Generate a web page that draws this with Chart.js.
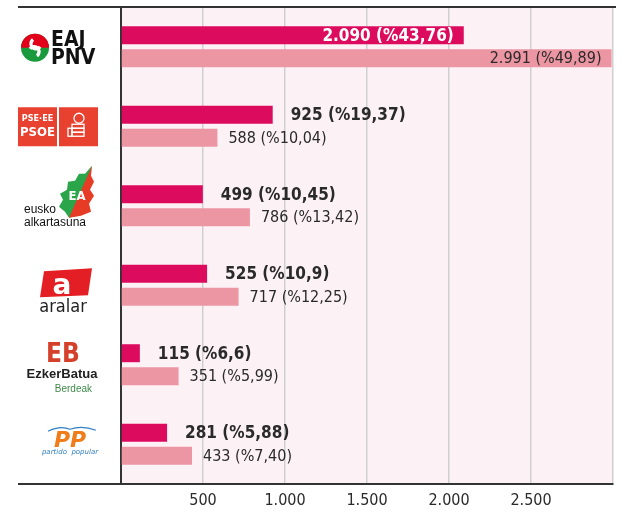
<!DOCTYPE html>
<html>
<head>
<meta charset="utf-8">
<script src="https://cdn.jsdelivr.net/npm/chart.js@4/dist/chart.umd.min.js"></script>
<style>
  html, body { margin: 0; padding: 0; background: #fff; }
  #wrap { width: 626px; height: 515px; }
</style>
</head>
<body>
<div id="wrap"><canvas id="votesChart" width="626" height="515"></canvas></div>
<script>
// ===============================
//     DATOS
// ===============================
const parties = ["EAJ-PNV", "PSE-EE PSOE", "Eusko Alkartasuna", "Aralar", "Ezker Batua Berdeak", "PP"];
const votesDark = [2090, 925, 499, 525, 115, 281];
const pctDark = ["43,76", "19,37", "10,45", "10,9", "6,6", "5,88"];
const votesLight = [2991, 588, 786, 717, 351, 433];
const pctLight = ["49,89", "10,04", "13,42", "12,25", "5,99", "7,40"];
const xTicks = [500, 1000, 1500, 2000, 2500];

const DARK = "#dc0b5e";
const LIGHT = "#ec95a3";
const TEXT = "#2a2a2a";
const COND = "'DejaVu Sans Condensed'";

// 1000 -> "1.000"
function fmt(n) {
  return String(n).replace(/\B(?=(\d{3})+(?!\d))/g, ".");
}

// ============================
//   Fondo rosa + líneas del marco
// ============================
const framePlugin = {
  id: "frame",
  beforeDraw(chart) {
    const { ctx, chartArea: a } = chart;
    ctx.save();
    ctx.fillStyle = "#fcf2f5";
    ctx.fillRect(a.left, a.top, a.right - a.left, a.bottom - a.top);
    ctx.restore();
  },
  afterDraw(chart) {
    const { ctx, chartArea: a } = chart;
    ctx.save();
    ctx.strokeStyle = "#333";
    ctx.lineWidth = 2;
    ctx.beginPath();
    ctx.moveTo(18, a.top);
    ctx.lineTo(616, a.top);
    ctx.moveTo(18, a.bottom);
    ctx.lineTo(a.right, a.bottom);
    ctx.stroke();
    ctx.restore();
  }
};

// ============================
//   Etiquetas de valores
// ============================
const valueLabels = {
  id: "valueLabels",
  afterDatasetsDraw(chart) {
    const { ctx, chartArea: a } = chart;
    ctx.save();
    ctx.textBaseline = "middle";
    chart.data.datasets.forEach((ds, di) => {
      const meta = chart.getDatasetMeta(di);
      const isDark = di === 0;
      const pcts = isDark ? pctDark : pctLight;
      ctx.font = isDark ? "bold 17px " + COND : "16px " + COND;
      meta.data.forEach((bar, i) => {
        const txt = fmt(ds.data[i]) + " (%" + pcts[i] + ")";
        const w = ctx.measureText(txt).width;
        const gap = isDark ? 18 : 11;
        if (bar.x + gap + w > a.right) {
          ctx.textAlign = "right";
          ctx.fillStyle = isDark ? "#fff" : TEXT;
          ctx.fillText(txt, bar.x - 10, bar.y + 1);
        } else {
          ctx.textAlign = "left";
          ctx.fillStyle = TEXT;
          ctx.fillText(txt, bar.x + gap, bar.y + 1);
        }
      });
    });
    ctx.restore();
  }
};

// ============================
//   Logos de los partidos (dibujo simplificado)
// ============================
function drawEAJ(ctx, cy) {
  const cx = 35, y = cy + 1, r = 14;
  ctx.fillStyle = "#1a9a3c";
  ctx.beginPath(); ctx.arc(cx, y, r, 0, Math.PI * 2); ctx.fill();
  ctx.fillStyle = "#e2001a";
  ctx.beginPath(); ctx.arc(cx, y, r, Math.PI, Math.PI * 2); ctx.fill();
  ctx.strokeStyle = "#fff"; ctx.lineWidth = 3.5;
  ctx.beginPath();
  ctx.arc(cx + 1, y - 4, 5, Math.PI * 0.2, Math.PI * 1.3, false);
  ctx.stroke();
  ctx.beginPath();
  ctx.arc(cx - 1, y + 4, 5, Math.PI * 1.2, Math.PI * 0.3, false);
  ctx.stroke();
  ctx.fillStyle = "#111";
  ctx.font = "bold 21px " + COND;
  ctx.textAlign = "left"; ctx.textBaseline = "alphabetic";
  ctx.fillText("EAJ", 51, cy - 1);
  ctx.fillText("PNV", 51, cy + 17);
}

function drawPSOE(ctx, cy) {
  ctx.fillStyle = "#e8412f";
  ctx.fillRect(18, cy - 19, 39, 39);
  ctx.fillRect(59, cy - 19, 39, 39);
  ctx.fillStyle = "#fff";
  ctx.textAlign = "center"; ctx.textBaseline = "alphabetic";
  ctx.font = "bold 9px " + COND;
  ctx.fillText("PSE·EE", 37.5, cy - 5);
  ctx.font = "bold 13px " + COND;
  ctx.fillText("PSOE", 37.5, cy + 10);
  // puño y rosa
  ctx.strokeStyle = "#fff"; ctx.lineWidth = 1.3;
  ctx.beginPath(); ctx.arc(79, cy - 8, 5, 0, Math.PI * 2); ctx.stroke();
  ctx.strokeRect(72, cy - 2, 12, 4);
  ctx.strokeRect(72, cy + 2, 12, 4);
  ctx.strokeRect(72, cy + 6, 12, 4);
  ctx.strokeRect(68, cy + 2, 4, 8);
}

function drawEA(ctx, cy) {
  const t = cy - 40, dx = 3;
  ctx.fillStyle = "#2aa54a";
  ctx.beginPath();
  ctx.moveTo(89 + dx, t);
  ctx.lineTo(82 + dx, t + 8); ctx.lineTo(76 + dx, t + 8); ctx.lineTo(72 + dx, t + 15);
  ctx.lineTo(65 + dx, t + 16); ctx.lineTo(64 + dx, t + 24); ctx.lineTo(57 + dx, t + 28);
  ctx.lineTo(60 + dx, t + 34); ctx.lineTo(56 + dx, t + 41); ctx.lineTo(62 + dx, t + 46);
  ctx.lineTo(66 + dx, t + 52); ctx.lineTo(75 + dx, t + 50);
  ctx.closePath(); ctx.fill();
  ctx.fillStyle = "#e63b25";
  ctx.beginPath();
  ctx.moveTo(89 + dx, t);
  ctx.lineTo(88 + dx, t + 10); ctx.lineTo(91 + dx, t + 16); ctx.lineTo(87 + dx, t + 24);
  ctx.lineTo(91 + dx, t + 30); ctx.lineTo(86 + dx, t + 38); ctx.lineTo(88 + dx, t + 46);
  ctx.lineTo(78 + dx, t + 50); ctx.lineTo(66 + dx, t + 52);
  ctx.closePath(); ctx.fill();
  ctx.fillStyle = "#fff";
  ctx.font = "bold 13px " + COND;
  ctx.textAlign = "center"; ctx.textBaseline = "alphabetic";
  ctx.fillText("EA", 74 + dx, t + 34);
  ctx.fillStyle = "#111";
  ctx.font = "12px 'Liberation Sans'";
  ctx.textAlign = "left";
  ctx.fillText("eusko", 24, cy + 7);
  ctx.fillText("alkartasuna", 24, cy + 20);
}

function drawAralar(ctx, cy) {
  ctx.fillStyle = "#e31e24";
  ctx.beginPath();
  ctx.moveTo(44, cy - 14);
  ctx.lineTo(92, cy - 17);
  ctx.lineTo(88, cy + 10);
  ctx.lineTo(40, cy + 12);
  ctx.closePath(); ctx.fill();
  ctx.fillStyle = "#fff";
  ctx.font = "bold 28px 'DejaVu Sans'";
  ctx.textAlign = "center"; ctx.textBaseline = "alphabetic";
  ctx.fillText("a", 62, cy + 9);
  ctx.fillStyle = "#222";
  ctx.font = "18px " + COND;
  ctx.fillText("aralar", 63, cy + 27);
}

function drawEB(ctx, cy) {
  ctx.fillStyle = "#d5402b";
  ctx.font = "bold 26px " + COND;
  ctx.textAlign = "center"; ctx.textBaseline = "alphabetic";
  ctx.fillText("EB", 63, cy - 3);
  ctx.fillStyle = "#222";
  ctx.font = "bold 13px 'Liberation Sans'";
  ctx.fillText("EzkerBatua", 62, cy + 13);
  ctx.fillStyle = "#3f8a4a";
  ctx.font = "10px 'Liberation Sans'";
  ctx.textAlign = "right";
  ctx.fillText("Berdeak", 92, cy + 27);
}

function drawPP(ctx, cy) {
  ctx.strokeStyle = "#2f7fc1"; ctx.lineWidth = 1.2;
  ctx.beginPath();
  ctx.moveTo(48, cy - 13);
  ctx.quadraticCurveTo(60, cy - 19, 70, cy - 15);
  ctx.quadraticCurveTo(82, cy - 19, 96, cy - 14);
  ctx.stroke();
  ctx.fillStyle = "#f07d1a";
  ctx.font = "italic bold 22px 'DejaVu Sans'";
  ctx.textAlign = "center"; ctx.textBaseline = "alphabetic";
  ctx.fillText("PP", 70, cy + 3);
  ctx.fillStyle = "#2f7fc1";
  ctx.font = "italic 7px 'DejaVu Sans'";
  ctx.fillText("partido  popular", 70, cy + 10);
}

const logoDrawers = [drawEAJ, drawPSOE, drawEA, drawAralar, drawEB, drawPP];

const logosPlugin = {
  id: "logos",
  afterDraw(chart) {
    const { ctx } = chart;
    const y = chart.scales.y;
    parties.forEach((p, i) => {
      ctx.save();
      logoDrawers[i](ctx, y.getPixelForValue(i));
      ctx.restore();
    });
  }
};

// ============================
//   GRÁFICA
// ============================
const ctx = document.getElementById("votesChart").getContext("2d");

new Chart(ctx, {
  type: "bar",
  data: {
    labels: parties,
    datasets: [
      {
        label: "Botoak",
        data: votesDark,
        backgroundColor: DARK,
        categoryPercentage: 0.58,
        barPercentage: 0.78
      },
      {
        label: "Botoak (aurrekoak)",
        data: votesLight,
        backgroundColor: LIGHT,
        categoryPercentage: 0.58,
        barPercentage: 0.78
      }
    ]
  },
  options: {
    indexAxis: "y",
    responsive: false,
    animation: false,
    devicePixelRatio: 1,
    layout: { padding: { top: 7, right: 13, left: 0, bottom: 0 } },
    plugins: {
      legend: { display: false },
      tooltip: { enabled: false }
    },
    scales: {
      x: {
        min: 0,
        max: 3000,
        ticks: {
          stepSize: 500,
          autoSkip: false,
          maxRotation: 0,
          padding: 7,
          color: TEXT,
          font: { family: COND, size: 16 },
          callback: (v) => (xTicks.includes(v) ? fmt(v) : "")
        },
        grid: { color: "#cfcfcf", lineWidth: 1.5, drawTicks: false },
        border: { color: "#333", width: 2 },
        afterFit(scale) { scale.height = 31; }
      },
      y: {
        ticks: { display: false },
        grid: { display: false, drawTicks: false },
        border: { color: "#333", width: 2 },
        afterFit(scale) { scale.width = 121; }
      }
    }
  },
  plugins: [framePlugin, valueLabels, logosPlugin]
});
</script>
</body>
</html>
